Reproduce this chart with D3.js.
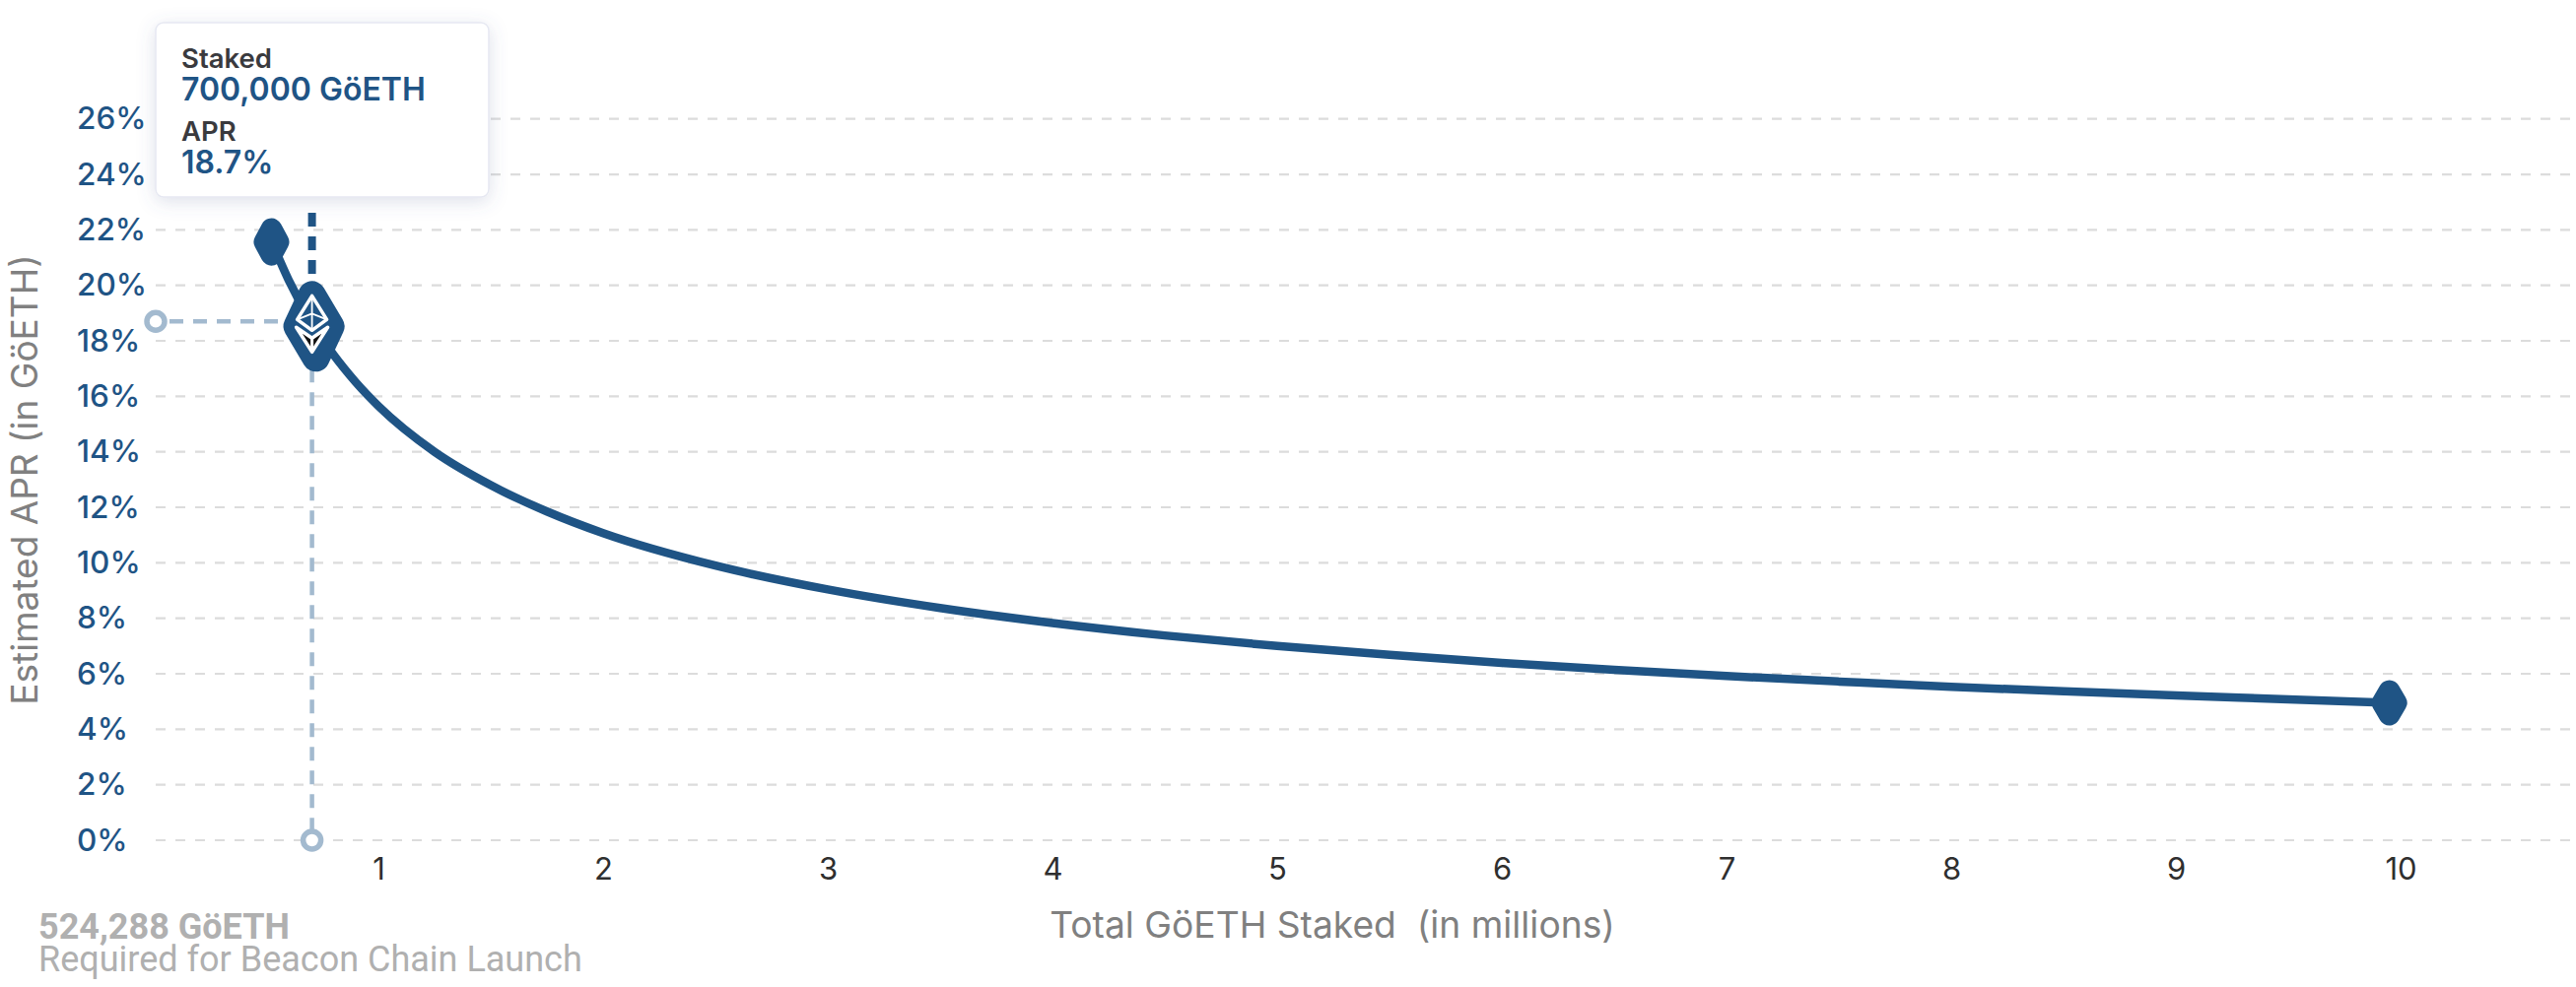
<!DOCTYPE html>
<html><head><meta charset="utf-8">
<script src="https://cdn.jsdelivr.net/npm/d3@7"></script>
<style>
html,body{margin:0;padding:0;background:#fff;overflow:hidden}
svg{display:block}
text{font-family:Inter,sans-serif}
</style></head><body>
<svg id="c" width="2614" height="1002"></svg>
<script>
const stakedMillions=[0.524,0.6,0.7,0.8,0.9,1,1.25,1.5,1.75,2,2.5,3,3.5,4,4.5,5,5.5,6,6.5,7,7.5,8,8.5,9,9.5,9.95];
const aprPercent=[21.6,20.2,18.7,17.5,16.5,15.65,14,12.8,11.85,11.07,9.9,9.04,8.37,7.83,7.38,7,6.68,6.39,6.14,5.92,5.72,5.53,5.37,5.22,5.08,4.95];
const xTicks=[1,2,3,4,5,6,7,8,9,10];
const yTicks=[0,2,4,6,8,10,12,14,16,18,20,22,24,26];
const selectedStaked=0.7, selectedApr=18.7;
const tipLabels=["Staked","APR"], tipValues=["700,000 GöETH","18.7%"];
const xTitle="Total GöETH Staked\u00a0 (in millions)", yTitle="Estimated APR (in GöETH)";
const noteLines=["524,288 GöETH","Required for Beacon Chain Launch"];

const blue="#1f5485", pale="#a3bacf";
const svg=d3.select("#c");
const x=d3.scaleLinear().domain([1,10]).range([384,2436]);
const y=d3.scaleLinear().domain([0,26]).range([853,120.7]);
const defs=svg.append("defs");
const f=defs.append("filter").attr("id","sh").attr("x","-20%").attr("y","-20%").attr("width","140%").attr("height","140%");
f.append("feDropShadow").attr("dx",0).attr("dy",4).attr("stdDeviation",9).attr("flood-color","#5a6a9a").attr("flood-opacity",0.2);

// grid
svg.append("g").selectAll("line").data(yTicks).join("line")
 .attr("x1",158).attr("x2",2608).attr("y1",d=>y(d)).attr("y2",d=>y(d))
 .attr("stroke","#dcdcdc").attr("stroke-width",2.2).attr("stroke-dasharray","10 10");

// axes
const ya=svg.append("g").attr("transform","translate(158,0)")
 .call(d3.axisLeft(y).tickValues(yTicks).tickSize(0).tickFormat(d=>d+"%"));
ya.select(".domain").remove();
ya.selectAll("text").attr("x",-80).attr("dy","0.32em").attr("text-anchor","start")
 .style("font-family","Inter,sans-serif").style("font-size","31.5px").style("font-weight",500).attr("fill",blue);
const xa=svg.append("g").attr("transform","translate(0,853)")
 .call(d3.axisBottom(x).tickValues(xTicks).tickSize(0).tickFormat(d=>d));
xa.select(".domain").remove();
xa.selectAll("text").attr("y",0).attr("dy","40px").attr("text-anchor","middle")
 .style("font-family","Inter,sans-serif").style("font-size","31px").attr("fill","#2f2f2f");

// selected guides
const sx=x(selectedStaked)+1, sy=y(selectedApr);
svg.append("line").attr("x1",158).attr("x2",sx).attr("y1",sy).attr("y2",sy)
 .attr("stroke",pale).attr("stroke-width",4.5).attr("stroke-dasharray","14 10").attr("stroke-dashoffset",-14);
svg.append("line").attr("x1",sx).attr("x2",sx).attr("y1",sy).attr("y2",y(0))
 .attr("stroke",pale).attr("stroke-width",4.5).attr("stroke-dasharray","14 10");
svg.append("g").selectAll("circle").data([[158,sy],[sx,y(0)]]).join("circle")
 .attr("cx",d=>d[0]).attr("cy",d=>d[1]).attr("r",9).attr("fill","#fff").attr("stroke",pale).attr("stroke-width",5.5);
svg.append("line").attr("x1",sx).attr("x2",sx).attr("y1",216).attr("y2",sy-30)
 .attr("stroke",blue).attr("stroke-width",8).attr("stroke-dasharray","14 10");

// curve
const pts=stakedMillions.map((s,i)=>[s,aprPercent[i]]);
svg.append("path").datum(pts)
 .attr("d",d3.line().x(d=>x(d[0])).y(d=>y(d[1])).curve(d3.curveMonotoneX))
 .attr("fill","none").attr("stroke",blue).attr("stroke-width",8.5);

// diamonds
function diamond(cx,cy,w,h,r,skew){
 const hw=w/2-r, hh=h/2-r;
 const p=[[cx+skew*-1,cy-hh],[cx+hw,cy],[cx+skew,cy+hh],[cx-hw,cy]];
 svg.append("path").attr("d",d3.line()(p)+"Z").attr("fill",blue).attr("stroke",blue)
  .attr("stroke-width",2*r).attr("stroke-linejoin","round");
}
diamond(x(stakedMillions[0]),y(aprPercent[0])+1,36,48,11,0);
diamond(x(stakedMillions[stakedMillions.length-1]),y(aprPercent[aprPercent.length-1]),36,46,11,0);
diamond(sx+2,sy+5,62,92,14,2);

// eth icon
const icon=svg.append("g").attr("transform",`translate(${sx},${sy+1})`).attr("fill","none").attr("stroke","#fff").attr("stroke-linejoin","round");
icon.append("path").attr("d","M0,-27 L-15,-3 L0,8 L15,-3 Z").attr("stroke-width",3.5);
icon.append("path").attr("d","M0,-27 L0,8 M-15,-3 L0,-9 L15,-3").attr("stroke-width",1.8);
icon.append("path").attr("d","M-16,5 L0,16 L16,5 L0,30 Z").attr("fill","#111").attr("stroke-width",3.5);
icon.append("path").attr("d","M0,16 L0,30").attr("stroke-width",3);

// tooltip
svg.append("rect").attr("x",158).attr("y",23).attr("width",338).attr("height",177).attr("rx",8)
 .attr("fill","#fff").attr("stroke","#e6e8f2").attr("stroke-width",1.5).attr("filter","url(#sh)");
const ty=[69,143], vy=[102,176];
svg.append("g").selectAll("text").data(tipLabels).join("text").text(d=>d)
 .attr("x",184).attr("y",(d,i)=>ty[i]).attr("font-size",27.5).attr("font-weight",600).attr("fill","#3a3a3e");
svg.append("g").selectAll("text").data(tipValues).join("text").text(d=>d)
 .attr("x",184).attr("y",(d,i)=>vy[i]).attr("font-size",32).attr("font-weight",600).attr("fill",blue);

// titles
svg.append("text").text(xTitle).attr("x",1352).attr("y",952).attr("text-anchor","middle")
 .attr("font-size",37.2).attr("fill","#808080");
svg.append("text").text(yTitle).attr("transform","translate(38,487) rotate(-90)").attr("text-anchor","middle")
 .attr("font-size",37).attr("fill","#808080");

// note
svg.append("text").text(noteLines[0]).attr("x",39).attr("y",953).style("font-family","Roboto").attr("font-size",36).attr("font-weight",700).attr("fill","#b0b0b0");
svg.append("text").text(noteLines[1]).attr("x",39).attr("y",986).style("font-family","Roboto").attr("font-size",36).attr("fill","#b0b0b0");
</script></body></html>
